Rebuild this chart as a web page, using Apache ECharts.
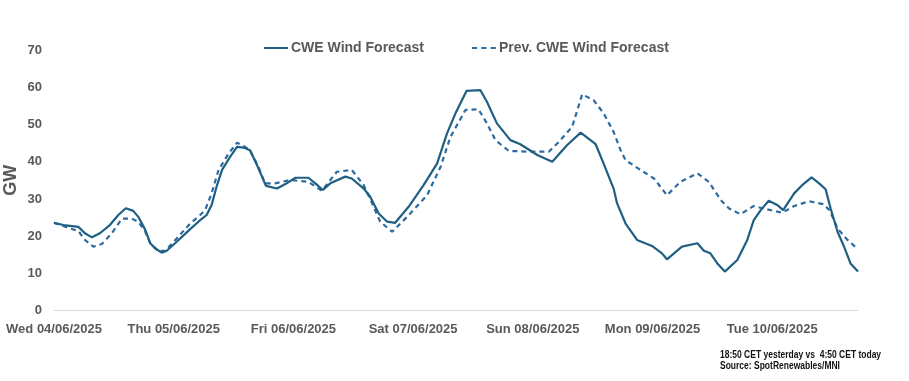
<!DOCTYPE html>
<html>
<head>
<meta charset="utf-8">
<script src="https://cdn.jsdelivr.net/npm/echarts@6/dist/echarts.min.js"></script>
<style>
html,body{margin:0;padding:0;background:#fff;}
#c{width:909px;height:381px;}
</style>
</head>
<body>
<div id="c"></div>
<script>
// Day tick labels (every 24 hours starting at hour 0)
const dayLabels = ['Wed 04/06/2025','Thu 05/06/2025','Fri 06/06/2025','Sat 07/06/2025','Sun 08/06/2025','Mon 09/06/2025','Tue 10/06/2025'];

// CWE Wind Forecast: hours since Wed 00:00, GW
const curHours = [0,1.9,4.9,6.2,7.6,9.2,11.2,12.9,14.4,15.9,16.9,18.3,19.3,20.3,21.6,22.6,24.6,27.3,29.3,30.6,31.6,32.6,33.7,35.3,36.7,38.0,39.3,40.7,41.7,42.5,44.7,46.4,48.4,51.0,52.4,53.9,55.4,58.4,59.7,62.1,63.4,65.1,66.8,68.4,71.1,74.1,76.8,78.8,80.5,82.7,85.5,86.8,88.8,91.5,93.5,96.9,99.9,102.9,105.6,108.6,110.2,112.2,112.9,114.6,116.9,119.9,121.9,122.9,125.9,129.0,130.3,131.6,133.0,134.5,137.0,139.0,140.3,141.7,143.3,145.0,146.2,148.4,150.0,151.9,153.4,154.7,155.7,157.1,158.4,159.7,161.2];
const curValues = [23.6,23.0,22.5,20.8,19.7,20.8,23.0,25.7,27.5,26.8,25.2,21.7,18.1,16.7,15.6,16.1,18.5,21.9,24.3,25.7,28.4,33.3,37.8,41.3,44.0,43.8,43.1,39.1,36.0,33.5,32.8,34.0,35.7,35.7,34.2,32.4,34.2,36.0,35.5,32.8,30.6,26.1,23.9,23.6,27.9,33.7,39.5,47.6,53.0,59.0,59.2,56.1,50.3,45.8,44.7,41.8,40.0,44.5,47.8,44.7,39.5,32.8,28.8,23.4,19.0,17.4,15.4,13.8,17.2,18.1,16.1,15.4,12.7,10.5,13.6,19.0,24.3,27.0,29.5,28.4,27.0,31.5,33.7,35.8,34.2,32.6,27.5,21.2,17.2,12.7,10.5];

// Prev. CWE Wind Forecast
const prevHours = [0,3.2,4.9,6.2,7.9,9.6,11.6,13.6,15.6,16.9,18.3,19.3,20.9,22.3,24.6,27.3,29.3,30.3,31.6,33.0,35.0,36.7,38.3,39.3,41.0,42.3,44.3,47.4,49.4,51.0,53.7,55.4,56.7,59.7,62.1,63.8,65.4,67.8,70.8,74.8,77.5,79.5,82.5,85.1,86.8,88.5,91.2,95.5,99.2,101.2,103.9,105.9,108.2,110.2,112.2,113.6,114.6,117.6,120.3,122.9,125.6,129.0,131.3,133.7,135.3,137.6,140.3,143.0,146.0,148.4,151.4,154.2,155.5,157.1,159.1,161.1];
const prevValues = [23.6,22.1,21.4,19.0,17.2,17.9,20.8,24.7,24.7,23.9,21.2,18.1,16.1,16.1,19.4,23.4,25.7,27.0,31.5,37.8,42.2,45.1,44.0,43.0,38.6,34.2,34.2,35.1,34.8,34.6,32.2,35.1,37.3,37.8,33.7,28.8,23.9,21.2,25.2,31.0,38.6,46.7,53.9,54.1,50.3,45.8,42.9,42.7,42.7,45.3,49.4,58.1,56.5,53.0,48.0,43.1,40.4,37.8,35.5,31.0,34.6,36.9,34.6,29.7,27.5,25.9,28.1,27.2,26.3,28.1,29.4,28.6,27.0,22.1,19.0,16.6];

const zip = (xs, ys) => xs.map((x, i) => [x, ys[i]]);

const chart = echarts.init(document.getElementById('c'), null, {renderer: 'canvas'});
const gray = '#595959';
const font = 'Liberation Sans, Arial, sans-serif';
chart.setOption({
  animation: false,
  backgroundColor: '#ffffff',
  grid: {left: 54, right: 51, top: 50, bottom: 70.3, outerBoundsMode: 'none', containLabel: false},
  legend: {
    top: 36,
    left: 259,
    itemWidth: 24,
    itemHeight: 14,
    itemGap: 48,
    textStyle: {color: gray, fontSize: 14, fontWeight: 'bold', fontFamily: font, padding: [0, 0, 0, -2]},
    data: [
      {name: 'CWE Wind Forecast', icon: 'path://M0,6 L24,6 L24,8 L0,8 Z'},
      {name: 'Prev. CWE Wind Forecast', icon: 'path://M0,6 L5,6 L5,8 L0,8 Z M9,6 L14,6 L14,8 L9,8 Z M18,6 L23,6 L23,8 L18,8 Z'}
    ]
  },
  xAxis: {
    type: 'value',
    min: 0,
    max: 161.2,
    interval: 24,
    axisLine: {show: true, lineStyle: {color: '#d9d9d9', width: 1}},
    axisTick: {show: false},
    splitLine: {show: false},
    axisLabel: {
      color: gray, fontSize: 13, fontWeight: 'bold', fontFamily: font,
      margin: 12, showMaxLabel: false,
      formatter: v => (v % 24 === 0 && dayLabels[v / 24]) ? dayLabels[v / 24] : ''
    }
  },
  yAxis: {
    type: 'value',
    min: 0, max: 70, interval: 10,
    name: 'GW',
    nameLocation: 'middle',
    nameGap: 34,
    nameMoveOverlap: false,
    nameTextStyle: {color: gray, fontSize: 18, fontWeight: 'bold', fontFamily: font},
    axisLine: {show: false},
    axisTick: {show: false},
    splitLine: {show: false},
    axisLabel: {color: gray, fontSize: 13, fontWeight: 'bold', fontFamily: font, margin: 12}
  },
  series: [
    {
      name: 'CWE Wind Forecast', type: 'line', showSymbol: false, symbol: 'none',
      data: zip(curHours, curValues),
      lineStyle: {color: '#1F5F82', width: 2.2},
      itemStyle: {color: '#1F5F82'},
      z: 3
    },
    {
      name: 'Prev. CWE Wind Forecast', type: 'line', showSymbol: false, symbol: 'none',
      data: zip(prevHours, prevValues),
      lineStyle: {color: '#2E6BA0', width: 2.2, type: [5, 4]},
      itemStyle: {color: '#2E6BA0'},
      z: 2
    }
  ],
  graphic: [
    {
      type: 'text', x: 720, y: 350, scaleX: 0.85,
      style: {
        text: '18:50 CET yesterday vs  4:50 CET today\nSource: SpotRenewables/MNI',
        fill: '#111', font: 'bold 10px "Liberation Sans", Arial, sans-serif',
        lineHeight: 10.5
      }
    }
  ]
});
</script>
</body>
</html>
